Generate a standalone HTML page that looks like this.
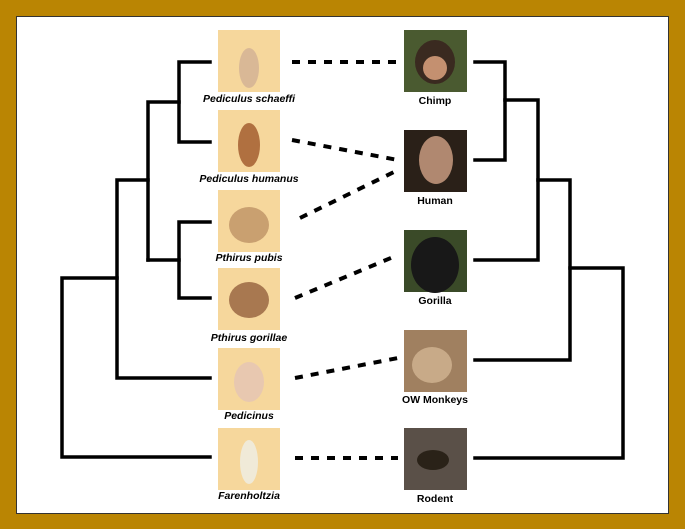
<!DOCTYPE html>
<html><head><style>
html,body{margin:0;padding:0;}
body{width:685px;height:529px;background:#BA8503;position:relative;overflow:hidden;font-family:"Liberation Sans",sans-serif;}
#in{position:absolute;left:16px;top:16px;width:651px;height:496px;background:#fff;border:1px solid #333;}
.t{position:absolute;font-size:10.5px;font-weight:bold;font-style:italic;color:#000;white-space:nowrap;transform:translateX(-50%);}
.h{font-style:normal;}
</style></head><body>
<div id="in"></div>
<svg width="685" height="529" style="position:absolute;left:0;top:0">
<defs>
<radialGradient id="lb" cx="50%" cy="50%" r="50%"><stop offset="0" stop-color="#c89a70"/><stop offset="1" stop-color="#f6d79c"/></radialGradient>
</defs>
<g fill="#F6D79C">
<rect x="218" y="30" width="62" height="62"/>
<rect x="218" y="110" width="62" height="62"/>
<rect x="218" y="190" width="62" height="62"/>
<rect x="218" y="268" width="62" height="62"/>
<rect x="218" y="348" width="62" height="62"/>
<rect x="218" y="428" width="62" height="62"/>
</g>
<g fill="#d9b896">
<ellipse cx="249" cy="68" rx="10" ry="20"/>
<ellipse cx="249" cy="145" rx="11" ry="22" fill="#b07040"/>
<ellipse cx="249" cy="225" rx="20" ry="18" fill="#c9a070"/>
<ellipse cx="249" cy="300" rx="20" ry="18" fill="#a87850"/>
<ellipse cx="249" cy="382" rx="15" ry="20" fill="#e8c8b0"/>
<ellipse cx="249" cy="462" rx="9" ry="22" fill="#f0ead8"/>
</g>
<rect x="404" y="30" width="63" height="62" fill="#4a5a30"/>
<ellipse cx="435" cy="62" rx="20" ry="22" fill="#3a2a20"/>
<ellipse cx="435" cy="68" rx="12" ry="12" fill="#c49070"/>
<rect x="404" y="130" width="63" height="62" fill="#2a2018"/>
<ellipse cx="436" cy="160" rx="17" ry="24" fill="#b08870"/>
<rect x="404" y="230" width="63" height="62" fill="#3a4a28"/>
<ellipse cx="435" cy="265" rx="24" ry="28" fill="#181818"/>
<rect x="404" y="330" width="63" height="62" fill="#a08060"/>
<ellipse cx="432" cy="365" rx="20" ry="18" fill="#c8aa88"/>
<rect x="404" y="428" width="63" height="62" fill="#5a5048"/>
<ellipse cx="433" cy="460" rx="16" ry="10" fill="#2a2218"/>
<g stroke="#000" stroke-width="3.5" fill="none" stroke-linecap="square">
<path d="M210 62H179V142H210"/>
<path d="M179 102H148V260"/>
<path d="M210 222H179V298H210"/>
<path d="M179 260H148"/>
<path d="M148 180H117V378H210"/>
<path d="M117 278H62V457H210"/>
<path d="M475 62H505V160H475"/>
<path d="M505 100H538V260H475"/>
<path d="M538 180H570V360H475"/>
<path d="M570 268H623V458H475"/>
</g>
<g stroke="#000" stroke-width="4" stroke-dasharray="8 8" fill="none">
<path d="M292 62H398"/>
<path d="M292 140L398 160"/>
<path d="M300 218L398 170"/>
<path d="M295 298L398 255"/>
<path d="M295 378L398 358"/>
<path d="M295 458H398"/>
</g>
</svg>
<div class="t" style="left:249px;top:93px">Pediculus schaeffi</div>
<div class="t" style="left:249px;top:173px">Pediculus humanus</div>
<div class="t" style="left:249px;top:252px">Pthirus pubis</div>
<div class="t" style="left:249px;top:332px">Pthirus gorillae</div>
<div class="t" style="left:249px;top:410px">Pedicinus</div>
<div class="t" style="left:249px;top:490px">Farenholtzia</div>
<div class="t h" style="left:435px;top:95px">Chimp</div>
<div class="t h" style="left:435px;top:195px">Human</div>
<div class="t h" style="left:435px;top:295px">Gorilla</div>
<div class="t h" style="left:435px;top:394px">OW Monkeys</div>
<div class="t h" style="left:435px;top:493px">Rodent</div>
</body></html>
